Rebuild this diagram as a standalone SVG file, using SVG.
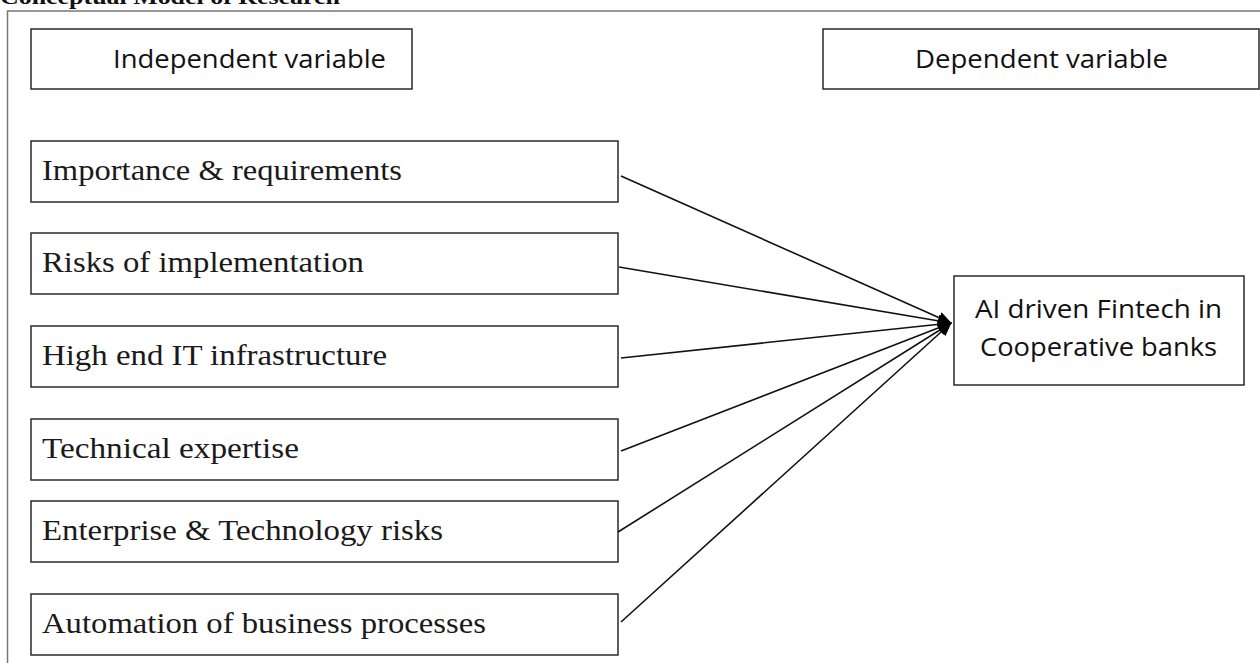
<svg xmlns="http://www.w3.org/2000/svg" width="1260" height="663" viewBox="0 0 1260 663">
<style>
.box{fill:#fff;stroke:#2a2a2a;stroke-width:1.5}
.serif{font-family:"Liberation Serif","Times New Roman",serif;font-size:29px;fill:#1a1a1a}
.sans{font-family:"Open Sans","Noto Sans","Liberation Sans",sans-serif;font-size:26px;fill:#111}
.conn{stroke:#111;stroke-width:1.6;fill:none;marker-end:url(#arr)}
.frame{stroke:#777;stroke-width:1.5;fill:none}
</style>
<defs>
<marker id="arr" markerUnits="userSpaceOnUse" markerWidth="14" markerHeight="12" refX="13" refY="6" orient="auto">
<path d="M0,0 L14,6 L0,12 z" fill="#000"/>
</marker>
</defs>
<rect width="1260" height="663" fill="#fff"/>
<text x="0" y="4" font-family="Liberation Serif,serif" font-weight="bold" font-size="20" textLength="340" lengthAdjust="spacingAndGlyphs" fill="#111">Conceptual Model of Research</text>
<path class="frame" d="M7.5,663 V11 H1260"/>
<g id="independent-header">
<rect class="box" x="31" y="29" width="381" height="60"/>
<text class="sans" x="113" y="68" textLength="273" lengthAdjust="spacingAndGlyphs">Independent variable</text>
</g>
<g id="dependent-header">
<rect class="box" x="823" y="29" width="436" height="60"/>
<text class="sans" x="915" y="68" textLength="253" lengthAdjust="spacingAndGlyphs">Dependent variable</text>
</g>
<g id="importance">
<rect class="box" x="31" y="141" width="587" height="61"/>
<text class="serif" x="42" y="180" textLength="360" lengthAdjust="spacingAndGlyphs">Importance &amp; requirements</text>
</g>
<g id="risks">
<rect class="box" x="31" y="233" width="587" height="61"/>
<text class="serif" x="42" y="272" textLength="322" lengthAdjust="spacingAndGlyphs">Risks of implementation</text>
</g>
<g id="infrastructure">
<rect class="box" x="31" y="326" width="587" height="61"/>
<text class="serif" x="42" y="365" textLength="345" lengthAdjust="spacingAndGlyphs">High end IT infrastructure</text>
</g>
<g id="expertise">
<rect class="box" x="31" y="419" width="587" height="61"/>
<text class="serif" x="42" y="458" textLength="257" lengthAdjust="spacingAndGlyphs">Technical expertise</text>
</g>
<g id="enterprise-risks">
<rect class="box" x="31" y="501" width="587" height="61"/>
<text class="serif" x="42" y="540" textLength="401" lengthAdjust="spacingAndGlyphs">Enterprise &amp; Technology risks</text>
</g>
<g id="automation">
<rect class="box" x="31" y="594" width="587" height="61"/>
<text class="serif" x="42" y="633" textLength="444" lengthAdjust="spacingAndGlyphs">Automation of business processes</text>
</g>
<g id="ai-fintech">
<rect class="box" x="954" y="276" width="290" height="109"/>
<text class="sans" x="975" y="318" textLength="247" lengthAdjust="spacingAndGlyphs">AI driven Fintech in</text>
<text class="sans" x="980" y="356" textLength="237" lengthAdjust="spacingAndGlyphs">Cooperative banks</text>
</g>
<g id="connectors">
<line class="conn" x1="621" y1="176" x2="951" y2="323"/>
<line class="conn" x1="619" y1="267" x2="951" y2="323"/>
<line class="conn" x1="621" y1="358" x2="951" y2="323"/>
<line class="conn" x1="621" y1="451" x2="951" y2="323"/>
<line class="conn" x1="618" y1="532" x2="951" y2="323"/>
<line class="conn" x1="621" y1="622" x2="951" y2="323"/>
</g>
</svg>
